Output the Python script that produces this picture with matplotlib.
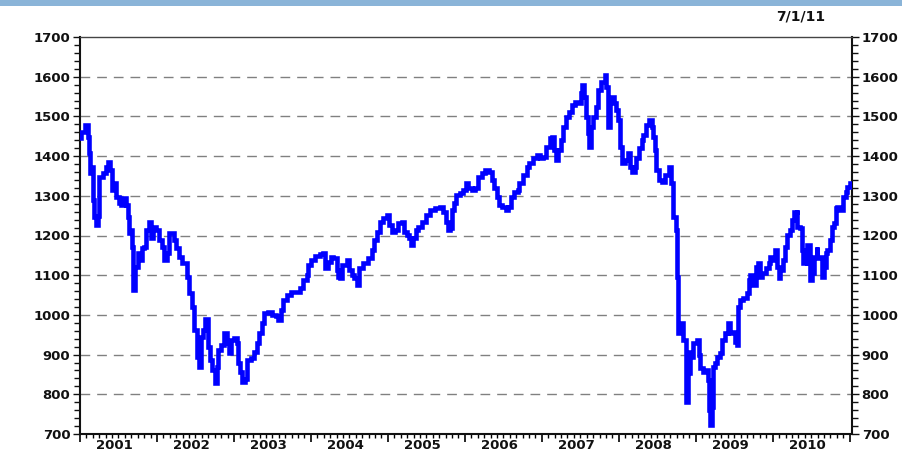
import matplotlib
matplotlib.use("Agg")
import matplotlib.pyplot as plt
from matplotlib.patches import Rectangle
from matplotlib.ticker import MultipleLocator
import matplotlib.transforms as mtransforms

plt.rcParams['font.family'] = ['DejaVu Sans']
plt.rcParams['font.weight'] = 'bold'

# weekly index level (decimal year, level)
t = [2001.00, 2001.01, 2001.06, 2001.10, 2001.12, 2001.13, 2001.16, 2001.17, 2001.18, 2001.21,
     2001.23, 2001.25, 2001.30, 2001.34, 2001.36, 2001.39, 2001.42, 2001.44, 2001.47, 2001.51,
     2001.53, 2001.56, 2001.60, 2001.62, 2001.64, 2001.65, 2001.68, 2001.69, 2001.71, 2001.75,
     2001.77, 2001.81, 2001.83, 2001.86, 2001.90, 2001.92, 2001.95, 2001.99, 2002.03, 2002.06,
     2002.09, 2002.13, 2002.16, 2002.19, 2002.22, 2002.25, 2002.29, 2002.32, 2002.35, 2002.39,
     2002.42, 2002.45, 2002.48, 2002.52, 2002.55, 2002.57, 2002.60, 2002.62, 2002.66, 2002.69,
     2002.71, 2002.75, 2002.78, 2002.79, 2002.83, 2002.87, 2002.91, 2002.94, 2002.96, 2003.00,
     2003.04, 2003.05, 2003.08, 2003.10, 2003.14, 2003.17, 2003.22, 2003.26, 2003.30, 2003.32,
     2003.36, 2003.39, 2003.44, 2003.49, 2003.55, 2003.57, 2003.61, 2003.64, 2003.69, 2003.74,
     2003.79, 2003.86, 2003.90, 2003.95, 2003.96, 2004.00, 2004.05, 2004.12, 2004.16, 2004.18,
     2004.22, 2004.26, 2004.29, 2004.34, 2004.35, 2004.38, 2004.40, 2004.47, 2004.49, 2004.53,
     2004.56, 2004.60, 2004.62, 2004.68, 2004.74, 2004.79, 2004.82, 2004.86, 2004.90, 2004.94,
     2004.99, 2005.01, 2005.05, 2005.09, 2005.13, 2005.18, 2005.21, 2005.25, 2005.27, 2005.30,
     2005.32, 2005.36, 2005.39, 2005.44, 2005.49, 2005.55, 2005.61, 2005.68, 2005.71, 2005.75,
     2005.78, 2005.81, 2005.83, 2005.86, 2005.88, 2005.94, 2005.97, 2006.01, 2006.04, 2006.09,
     2006.13, 2006.17, 2006.22, 2006.26, 2006.31, 2006.35, 2006.38, 2006.42, 2006.44, 2006.48,
     2006.53, 2006.56, 2006.60, 2006.64, 2006.69, 2006.71, 2006.75, 2006.81, 2006.84, 2006.88,
     2006.94, 2006.97, 2007.01, 2007.06, 2007.10, 2007.13, 2007.16, 2007.18, 2007.21, 2007.25,
     2007.27, 2007.31, 2007.35, 2007.39, 2007.43, 2007.47, 2007.51, 2007.52, 2007.55, 2007.57,
     2007.60, 2007.61, 2007.64, 2007.66, 2007.70, 2007.73, 2007.77, 2007.82, 2007.84, 2007.86,
     2007.88, 2007.91, 2007.94, 2007.97, 2007.99, 2008.01, 2008.04, 2008.08, 2008.12, 2008.14,
     2008.17, 2008.21, 2008.23, 2008.26, 2008.30, 2008.32, 2008.35, 2008.39, 2008.43, 2008.44,
     2008.47, 2008.49, 2008.52, 2008.56, 2008.60, 2008.65, 2008.68, 2008.70, 2008.71, 2008.74,
     2008.75, 2008.77, 2008.79, 2008.82, 2008.84, 2008.87, 2008.90, 2008.92, 2008.95, 2008.97,
     2009.01, 2009.04, 2009.06, 2009.09, 2009.13, 2009.16, 2009.17, 2009.18, 2009.21, 2009.22,
     2009.25, 2009.27, 2009.31, 2009.34, 2009.38, 2009.42, 2009.44, 2009.47, 2009.51, 2009.53,
     2009.55, 2009.57, 2009.61, 2009.66, 2009.69, 2009.71, 2009.74, 2009.78, 2009.81, 2009.83,
     2009.86, 2009.91, 2009.95, 2009.97, 2010.00, 2010.03, 2010.06, 2010.08, 2010.10, 2010.13,
     2010.16, 2010.19, 2010.22, 2010.25, 2010.27, 2010.31, 2010.32, 2010.36, 2010.38, 2010.39,
     2010.42, 2010.44, 2010.45, 2010.48, 2010.49, 2010.51, 2010.53, 2010.57, 2010.58, 2010.62,
     2010.64, 2010.66, 2010.69, 2010.71, 2010.74, 2010.77, 2010.79, 2010.82, 2010.84, 2010.88,
     2010.91, 2010.95, 2010.97, 2011.00]

level = [1446, 1461, 1478, 1448, 1408, 1357, 1372, 1289, 1247, 1226,
         1250, 1347, 1357, 1372, 1385, 1365, 1315, 1332, 1297, 1282,
         1277, 1294, 1277, 1247, 1206, 1214, 1171, 1063, 1121, 1156,
         1138, 1168, 1171, 1214, 1234, 1194, 1221, 1214, 1189, 1171,
         1138, 1156, 1206, 1206, 1189, 1168, 1146, 1131, 1131, 1096,
         1055, 1020, 962, 894, 869, 944, 962, 990, 920, 886,
         861, 828, 869, 911, 924, 954, 929, 904, 937, 941,
         929, 879, 856, 831, 838, 886, 891, 906, 929, 954,
         979, 1004, 1007, 999, 997, 987, 1012, 1037, 1050, 1058,
         1058, 1068, 1088, 1100, 1126, 1138, 1148, 1153, 1156, 1118,
         1133, 1146, 1143, 1113, 1096, 1093, 1126, 1138, 1113, 1100,
         1093, 1075, 1118, 1131, 1143, 1163, 1189, 1209, 1234, 1244,
         1252, 1227, 1209, 1214, 1231, 1234, 1209, 1201, 1194, 1176,
         1194, 1214, 1221, 1234, 1252, 1264, 1269, 1272, 1259, 1234,
         1214, 1219, 1264, 1282, 1302, 1307, 1315, 1332, 1320, 1315,
         1320, 1347, 1357, 1365, 1360, 1340, 1320, 1297, 1277, 1272,
         1264, 1272, 1297, 1310, 1315, 1332, 1352, 1373, 1383, 1395,
         1403, 1395, 1398, 1423, 1446, 1448, 1415, 1390, 1415, 1441,
         1473, 1498, 1511, 1529, 1536, 1534, 1559, 1579, 1549, 1498,
         1458, 1423, 1473, 1498, 1524, 1567, 1587, 1604, 1574, 1473,
         1546, 1549, 1534, 1516, 1491, 1423, 1383, 1390, 1408, 1373,
         1360, 1373, 1395, 1420, 1441, 1453, 1478, 1491, 1473, 1448,
         1415, 1365, 1340, 1335, 1352, 1373, 1332, 1289, 1247, 1214,
         1096, 954, 970, 979, 937, 781, 854, 907, 894, 929,
         937, 899, 866, 856, 861, 836, 760, 723, 768, 869,
         879, 894, 904, 937, 954, 979, 954, 957, 932, 924,
         1020, 1037, 1042, 1055, 1088, 1100, 1075, 1121, 1131, 1096,
         1105, 1118, 1131, 1146, 1138, 1163, 1121, 1093, 1113, 1138,
         1171, 1201, 1214, 1239, 1259, 1264, 1221, 1219, 1163, 1131,
         1146, 1126, 1176, 1133, 1088, 1105, 1146, 1171, 1143, 1146,
         1096, 1121, 1156, 1163, 1189, 1221, 1231, 1269, 1272, 1264,
         1297, 1310, 1322, 1332]

years = list(range(2001, 2011))
y_major = [700, 800, 900, 1000, 1100, 1200, 1300, 1400, 1500, 1600, 1700]
end_label = "7/1/11"

fig = plt.figure(figsize=(9.03, 4.57), dpi=100)
fig.patches.append(Rectangle((0, 1 - 6 / 457), 1, 6 / 457, transform=fig.transFigure,
                             facecolor='#8ab4d8', edgecolor='none', zorder=0))

ax = fig.add_axes([80 / 903, 23 / 457, 772 / 903, 397 / 457])
ax.plot(t, level, color='#0000ff', lw=3.3, drawstyle='steps-post', solid_joinstyle='miter',
        zorder=3)

ax.set_xlim(2001.0, 2011.03)
ax.set_ylim(700, 1700)

ax.set_yticks(y_major)
ax.yaxis.set_minor_locator(MultipleLocator(20))
for v in y_major[1:-1]:
    ax.axhline(v, color='#808080', lw=1.0, dashes=(7, 5), zorder=1)

ax.set_xticks(years + [2011])
ax.set_xticklabels([])
ax.xaxis.set_minor_locator(MultipleLocator(1 / 12))
trans = mtransforms.blended_transform_factory(ax.transData, ax.transAxes)
for yr in years:
    ax.text(yr + 0.45, -0.012, str(yr), transform=trans, ha='center', va='top',
            fontsize=9.5, color='#111111')

ax.tick_params(axis='y', which='both', direction='out', left=True, right=True,
               labelleft=True, labelright=True, labelsize=9.5, colors='#111111', pad=2)
ax.tick_params(axis='y', which='major', length=5, width=1)
ax.tick_params(axis='y', which='minor', length=4, width=1)
ax.tick_params(axis='x', which='major', direction='out', length=6, width=1.2)
ax.tick_params(axis='x', which='minor', direction='out', length=3, width=1)

for side in ['left', 'right', 'bottom']:
    ax.spines[side].set_linewidth(1.5)
    ax.spines[side].set_color('#111111')
ax.spines['top'].set_linewidth(1.0)
ax.spines['top'].set_color('#444444')

fig.text(801 / 903, 1 - 16 / 457, end_label, ha='center', va='center', fontsize=10,
         color='#111111')

fig.savefig('out.png', dpi=100)
